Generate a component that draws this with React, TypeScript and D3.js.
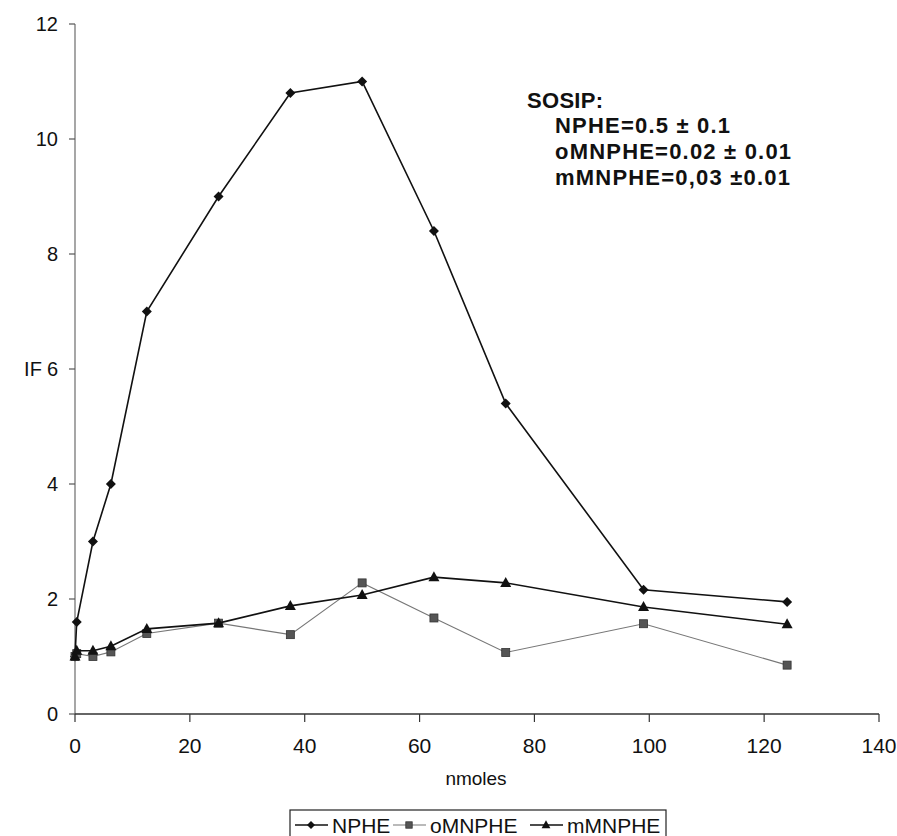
import * as d3 from 'd3';
import React from 'react';

// x values (nmoles)
const nmoles = [0, 0.3, 3.125, 6.25, 12.5, 25, 37.5, 50, 62.5, 75, 99, 124];
const npheValues = [1.0, 1.6, 3.0, 4.0, 7.0, 9.0, 10.8, 11.0, 8.4, 5.4, 2.16, 1.95];
const omnpheValues = [1.0, 1.05, 1.0, 1.08, 1.4, 1.58, 1.38, 2.28, 1.67, 1.07, 1.57, 0.85];
const mmnpheValues = [1.0, 1.1, 1.1, 1.18, 1.48, 1.58, 1.88, 2.07, 2.38, 2.28, 1.86, 1.56];
const xTicks = [0, 20, 40, 60, 80, 100, 120, 140];
const yTicks = [0, 2, 4, 6, 8, 10, 12];
const seriesNames = ['NPHE', 'oMNPHE', 'mMNPHE'];
const noteLines = ['NPHE=0.5 \u00b1 0.1', 'oMNPHE=0.02 \u00b1 0.01', 'mMNPHE=0,03 \u00b10.01'];

const W = 897;
const H = 836;
const margin = { left: 75, top: 24, right: 18, bottom: 122 };
const font = 'Liberation Sans, Arial, sans-serif';

const x = d3.scaleLinear().domain([0, 140]).range([margin.left, W - margin.right]);
const y = d3.scaleLinear().domain([0, 12]).range([H - margin.bottom, margin.top]);

const series = [
  { name: seriesNames[0], values: npheValues, color: '#111', width: 1.6, marker: 'diamond' },
  { name: seriesNames[1], values: omnpheValues, color: '#777', width: 1.1, marker: 'square' },
  { name: seriesNames[2], values: mmnpheValues, color: '#111', width: 1.6, marker: 'triangle' },
];

function Marker({ kind, cx, cy, k = 1 }: { kind: string; cx: number; cy: number; k?: number }) {
  if (kind === 'diamond') {
    const s = 5 * k;
    return <path d={`M${cx},${cy - s}L${cx + s},${cy}L${cx},${cy + s}L${cx - s},${cy}Z`} fill="#111" />;
  }
  if (kind === 'square') {
    const s = 4 * k;
    return <rect x={cx - s} y={cy - s} width={2 * s} height={2 * s} fill="#555" stroke="#333" strokeWidth={0.8} />;
  }
  return <path d={`M${cx},${cy - 6 * k}L${cx + 5.5 * k},${cy + 4 * k}L${cx - 5.5 * k},${cy + 4 * k}Z`} fill="#111" />;
}

export default function App() {
  const line = d3.line<number>().x((_, i) => x(nmoles[i])).y((d) => y(d));
  const y0 = y(0);

  const legendItems = [
    { x: 295, s: series[0] },
    { x: 393, s: series[1] },
    { x: 530, s: series[2] },
  ];

  return (
    <svg width={W} height={H} style={{ position: 'absolute', left: 0, top: 0, background: '#fff' }} fontFamily={font}>
      {/* y axis */}
      <line x1={x(0)} x2={x(0)} y1={y(12)} y2={y0} stroke="#777" strokeWidth={1.3} />
      {yTicks.map((t) => (
        <g key={t}>
          <line x1={x(0) - 6} x2={x(0)} y1={y(t)} y2={y(t)} stroke="#555" strokeWidth={1.2} />
          <text x={x(0) - 17} y={y(t)} dy="0.35em" textAnchor="end" fontSize={20} fill="#111">{t}</text>
        </g>
      ))}
      <text x={33} y={y(6)} dy="0.35em" textAnchor="middle" fontSize={20} fill="#111">IF</text>

      {/* x axis */}
      <line x1={x(0)} x2={x(140)} y1={y0} y2={y0} stroke="#333" strokeWidth={1.5} />
      {xTicks.map((t) => (
        <g key={t}>
          <line x1={x(t)} x2={x(t)} y1={y0} y2={y0 + 8} stroke="#333" strokeWidth={1.2} />
          <text x={x(t)} y={y0 + 39} textAnchor="middle" fontSize={21} fill="#111">{t}</text>
        </g>
      ))}
      <text x={476} y={785} textAnchor="middle" fontSize={19} fill="#111">nmoles</text>

      {/* series */}
      {series.map((s) => (
        <g key={s.name}>
          <path d={line(s.values) || ''} fill="none" stroke={s.color} strokeWidth={s.width} />
          {s.values.map((v, i) => (
            <Marker key={i} kind={s.marker} cx={x(nmoles[i])} cy={y(v)} />
          ))}
        </g>
      ))}

      {/* annotation */}
      <text x={527} y={108} fontSize={22} fontWeight="bold" letterSpacing={0.3} fill="#111">SOSIP:</text>
      {noteLines.map((t, i) => (
        <text key={t} x={555} y={133 + i * 26} fontSize={22} fontWeight="bold" letterSpacing={1.2} fill="#111">{t}</text>
      ))}

      {/* legend */}
      <rect x={290} y={810} width={376} height={40} fill="#fff" stroke="#222" strokeWidth={1.2} />
      {legendItems.map(({ x: lx, s }) => (
        <g key={s.name}>
          <line x1={lx} x2={lx + 33} y1={825} y2={825} stroke={s.color} strokeWidth={s.width} />
          <Marker kind={s.marker} cx={lx + 16} cy={825} k={0.8} />
          <text x={lx + 37} y={833} fontSize={21} fill="#111">{s.name}</text>
        </g>
      ))}
    </svg>
  );
}
